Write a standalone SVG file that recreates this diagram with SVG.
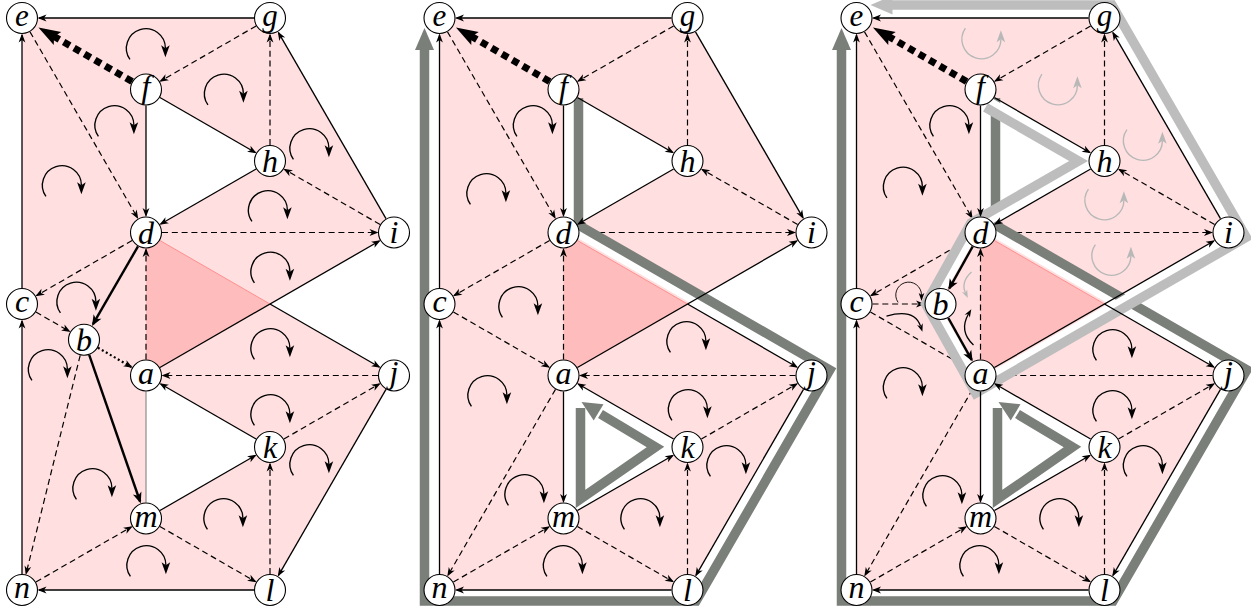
<svg xmlns="http://www.w3.org/2000/svg" xmlns:xlink="http://www.w3.org/1999/xlink" width="1251" height="611" viewBox="0 0 1251 611">
<defs>
<style>
.pink{fill:#ffdfdf;fill-rule:evenodd}
.tri{fill:#ffbcbc}
.red{stroke:#ff8f8f;stroke-width:1}
.s{stroke:#000;stroke-width:1.3;fill:none}
.d{stroke:#000;stroke-width:1.2;stroke-dasharray:6 3.8;fill:none}
.t{stroke:#000;stroke-width:2.4;fill:none;marker-end:url(#ahT)}
.dot{stroke:#000;stroke-width:2.2;stroke-dasharray:2 2.6;fill:none}
.bd{stroke:#000;stroke-width:7;stroke-dasharray:7 5;fill:none;marker-end:url(#ahB)}
.gr{stroke:#8c8c8c;stroke-width:1.2}
.a{marker-end:url(#ah)}
.case{fill:none;stroke:#fff;stroke-width:8;stroke-linejoin:miter}
.bandD{fill:none;stroke:#7a7f7a;stroke-width:9.5;stroke-linejoin:miter}
.bandL{fill:none;stroke:#bdbdbd;stroke-width:9.5;stroke-linejoin:miter}
.headD{fill:#7a7f7a}
.headL{fill:#bdbdbd}
.node circle{fill:#fff;stroke:#000;stroke-width:1.1}
.node text{font-family:"Liberation Serif","Times New Roman",serif;font-style:italic;font-size:32px;text-anchor:middle;fill:#000}
.node text.top{font-size:31px}
.rot{color:#000}
.rotg{color:#b8b8b8}
.sm{fill:none;stroke-width:1.3}
</style>
<marker id="ah" markerUnits="userSpaceOnUse" markerWidth="20" markerHeight="20" refX="0" refY="0" orient="auto" overflow="visible"><path d="M1.5,0 L-7.5,-3.4 L-5,0 L-7.5,3.4 Z" fill="#000"/></marker>
<marker id="ahT" markerUnits="userSpaceOnUse" markerWidth="20" markerHeight="20" refX="0" refY="0" orient="auto" overflow="visible"><path d="M2,0 L-9,-4.5 L-6,0 L-9,4.5 Z" fill="#000"/></marker>
<marker id="ahB" markerUnits="userSpaceOnUse" markerWidth="40" markerHeight="40" refX="0" refY="0" orient="auto" overflow="visible"><path d="M16,0 L-6,-7.5 L-2,0 L-6,7.5 Z" fill="#000"/></marker>
<g id="rot"><path d="M-17.27,11.18 A19.5,19.5 0 1 1 18.2,0" fill="none" stroke="currentColor" stroke-width="1.35"/><path d="M18.2,9 L22.5,-3 L18.2,0 L13.9,-3 Z" fill="currentColor"/></g>
</defs>
<rect width="1251" height="611" fill="#fff"/>

<!-- ================= PANEL 1 ================= -->
<g id="panel1">
<path class="pink" d="M22,18 L270,18 L394,232.5 L270,304 L394,375.5 L270,590 L22,590 Z M146,89.5 L270,161 L146,232.5 Z M146,375.5 L270,447 L146,518.5 Z"/>
<path class="tri" d="M146,232.5 L270,304 L146,375.5 Z"/>
<g id="p1-connectors">
<line class="red" x1="159.9" y1="240.5" x2="270" y2="304"/>
<line class="d a" x1="256.1" y1="26" x2="160.7" y2="81"/>
<line class="d a" x1="30" y1="31.85" x2="137.5" y2="217.8"/>
<line class="d a" x1="270" y1="145" x2="270" y2="35"/>
<line class="d a" x1="380.1" y1="224.5" x2="284.7" y2="169.5"/>
<line class="d a" x1="162" y1="232.5" x2="377" y2="232.5"/>
<line class="d a" x1="132.1" y1="240.5" x2="36.7" y2="295.5"/>
<line class="d a" x1="146" y1="359.5" x2="146" y2="249.5"/>
<line class="d a" x1="378" y1="375.5" x2="163" y2="375.5"/>
<line class="d a" x1="283.9" y1="439" x2="379.3" y2="384"/>
<line class="d a" x1="270" y1="574" x2="270" y2="464"/>
<line class="d a" x1="159.9" y1="526.5" x2="255.3" y2="581.5"/>
<line class="d a" x1="35.9" y1="582" x2="131.3" y2="527"/>
<line class="d a" x1="35.9" y1="312" x2="69.3" y2="331.3"/>
<line class="d a" x1="80.2" y1="355.3" x2="26.1" y2="573.5"/>
<line class="gr" x1="146" y1="391.5" x2="146" y2="502.5"/>
<line class="s a" x1="254" y1="18" x2="39" y2="18"/>
<line class="bd" x1="132.1" y1="81.5" x2="52.3" y2="35.5"/>
<line class="s a" x1="146" y1="105.5" x2="146" y2="215.5"/>
<line class="s a" x1="159.9" y1="97.5" x2="255.3" y2="152.5"/>
<line class="s a" x1="256.1" y1="169" x2="160.7" y2="224"/>
<line class="s a" x1="386" y1="218.65" x2="278.5" y2="32.7"/>
<line class="s a" x1="159.9" y1="367.5" x2="379.3" y2="241"/>
<line class="s a" x1="22" y1="288" x2="22" y2="35"/>
<line class="s a" x1="22" y1="574" x2="22" y2="321"/>
<line class="s a" x1="270" y1="304" x2="379.3" y2="367"/>
<line class="s a" x1="256.1" y1="439" x2="160.7" y2="384"/>
<line class="s a" x1="159.9" y1="510.5" x2="255.3" y2="455.5"/>
<line class="s a" x1="386" y1="389.35" x2="278.5" y2="575.3"/>
<line class="s a" x1="254" y1="590" x2="39" y2="590"/>
<line class="t" x1="138" y1="246.35" x2="93" y2="324.2"/>
<line class="t" x1="89.2" y1="354.9" x2="140.1" y2="501.5"/>
<line class="dot a" x1="97.9" y1="347.7" x2="131.3" y2="367"/>
</g>
<g id="p1-rotations" class="rot">
<use xlink:href="#rot" transform="translate(147.2,48.2)"/>
<use xlink:href="#rot" transform="translate(225.2,93.7)"/>
<use xlink:href="#rot" transform="translate(115.7,125.2)"/>
<use xlink:href="#rot" transform="translate(63.2,185.2)"/>
<use xlink:href="#rot" transform="translate(310.7,148.2)"/>
<use xlink:href="#rot" transform="translate(269.2,210.2)"/>
<use xlink:href="#rot" transform="translate(271.7,271.7)"/>
<use xlink:href="#rot" transform="translate(77.7,301.7)"/>
<use xlink:href="#rot" transform="translate(49.2,369.2)"/>
<use xlink:href="#rot" transform="translate(271.7,348.2)"/>
<use xlink:href="#rot" transform="translate(271.7,414.2)"/>
<use xlink:href="#rot" transform="translate(310.7,464.2)"/>
<use xlink:href="#rot" transform="translate(93.7,488.2)"/>
<use xlink:href="#rot" transform="translate(224.7,518.2)"/>
<use xlink:href="#rot" transform="translate(147.7,565.2)"/>
</g>
<g id="p1-nodes">
<g id="p1-e" class="node"><circle cx="22" cy="18" r="15.5"/><text class="top" x="22" y="26">e</text></g>
<g id="p1-g" class="node"><circle cx="270" cy="18" r="15.5"/><text class="top" x="270" y="26">g</text></g>
<g id="p1-f" class="node"><circle cx="146" cy="89.5" r="15.5"/><text x="146" y="97.3">f</text></g>
<g id="p1-h" class="node"><circle cx="270" cy="161" r="15.5"/><text x="270" y="172.3">h</text></g>
<g id="p1-d" class="node"><circle cx="146" cy="232.5" r="15.5"/><text x="146" y="243.8">d</text></g>
<g id="p1-i" class="node"><circle cx="394" cy="232.5" r="15.5"/><text x="394" y="243">i</text></g>
<g id="p1-c" class="node"><circle cx="22" cy="304" r="15.5"/><text x="22" y="312.2">c</text></g>
<g id="p1-b" class="node"><circle cx="84" cy="339.75" r="15.5"/><text x="84" y="351">b</text></g>
<g id="p1-a" class="node"><circle cx="146" cy="375.5" r="15.5"/><text x="146" y="383.7">a</text></g>
<g id="p1-j" class="node"><circle cx="394" cy="375.5" r="15.5"/><text x="394" y="382.7">j</text></g>
<g id="p1-k" class="node"><circle cx="270" cy="447" r="15.5"/><text x="270" y="458.3">k</text></g>
<g id="p1-m" class="node"><circle cx="146" cy="518.5" r="15.5"/><text x="146" y="526.7">m</text></g>
<g id="p1-n" class="node"><circle cx="22" cy="590" r="15.5"/><text x="22" y="598.2">n</text></g>
<g id="p1-l" class="node"><circle cx="270" cy="590" r="15.5"/><text x="270" y="601.3">l</text></g>
</g>
</g>

<!-- ================= PANEL 2 ================= -->
<g id="panel2" transform="translate(417.5,0)">
<path class="pink" d="M22,18 L270,18 L394,232.5 L270,304 L394,375.5 L270,590 L22,590 Z M146,89.5 L270,161 L146,232.5 Z M146,375.5 L270,447 L146,518.5 Z"/>
<path class="tri" d="M146,232.5 L270,304 L146,375.5 Z"/>
<g id="p2-connectors-dashed">
<line class="red" x1="159.9" y1="240.5" x2="270" y2="304"/>
<line class="d a" x1="256.1" y1="26" x2="160.7" y2="81"/>
<line class="d a" x1="30" y1="31.85" x2="137.5" y2="217.8"/>
<line class="d a" x1="270" y1="145" x2="270" y2="35"/>
<line class="d a" x1="380.1" y1="224.5" x2="284.7" y2="169.5"/>
<line class="d a" x1="162" y1="232.5" x2="377" y2="232.5"/>
<line class="d a" x1="132.1" y1="240.5" x2="36.7" y2="295.5"/>
<line class="d a" x1="146" y1="359.5" x2="146" y2="249.5"/>
<line class="d a" x1="378" y1="375.5" x2="163" y2="375.5"/>
<line class="d a" x1="283.9" y1="439" x2="379.3" y2="384"/>
<line class="d a" x1="270" y1="574" x2="270" y2="464"/>
<line class="d a" x1="159.9" y1="526.5" x2="255.3" y2="581.5"/>
<line class="d a" x1="35.9" y1="582" x2="131.3" y2="527"/>
<line class="d a" x1="35.9" y1="312" x2="131.3" y2="367"/>
<line class="d a" x1="138" y1="389.35" x2="30.5" y2="575.3"/>
</g>
<g id="p2-rotations" class="rot">
<use xlink:href="#rot" transform="translate(116.7,125.2)"/>
<use xlink:href="#rot" transform="translate(70.2,193.2)"/>
<use xlink:href="#rot" transform="translate(102.2,306.2)"/>
<use xlink:href="#rot" transform="translate(71.2,395.2)"/>
<use xlink:href="#rot" transform="translate(270.2,341.2)"/>
<use xlink:href="#rot" transform="translate(271.7,409.2)"/>
<use xlink:href="#rot" transform="translate(310.2,465.2)"/>
<use xlink:href="#rot" transform="translate(108.2,494.2)"/>
<use xlink:href="#rot" transform="translate(224.2,518.2)"/>
<use xlink:href="#rot" transform="translate(146.7,565.2)"/>
</g>
<g id="p2-paths">
<polyline class="case" points="152.75,98 152.75,229.1 402.2,373 273.9,594.95 15.25,594.95 15.25,50"/>
<polyline class="bandD" points="161,98 161,225 412.3,369.9 278.6,601 7,601 7,49"/>
<polygon class="headD" points="7,28 16.5,50 -2.5,50"/>
<polyline class="bandD" points="163,408 163,499 238,447 183,414"/>
<polygon class="headD" points="164,402 186,404.3 176.2,420.5"/>
</g>
<g id="p2-connectors-solid">
<line class="s a" x1="254" y1="18" x2="39" y2="18"/>
<line class="bd" x1="132.1" y1="81.5" x2="52.3" y2="35.5"/>
<line class="s a" x1="146" y1="105.5" x2="146" y2="215.5"/>
<line class="s a" x1="159.9" y1="97.5" x2="255.3" y2="152.5"/>
<line class="s a" x1="256.1" y1="169" x2="160.7" y2="224"/>
<line class="s a" x1="278" y1="31.85" x2="385.5" y2="217.8"/>
<line class="s a" x1="159.9" y1="367.5" x2="379.3" y2="241"/>
<line class="s a" x1="22" y1="288" x2="22" y2="35"/>
<line class="s a" x1="22" y1="574" x2="22" y2="321"/>
<line class="s a" x1="270" y1="304" x2="379.3" y2="367"/>
<line class="s a" x1="256.1" y1="439" x2="160.7" y2="384"/>
<line class="s a" x1="159.9" y1="510.5" x2="255.3" y2="455.5"/>
<line class="s a" x1="386" y1="389.35" x2="278.5" y2="575.3"/>
<line class="s a" x1="254" y1="590" x2="39" y2="590"/>
<line class="s a" x1="146" y1="391.5" x2="146" y2="501.5"/>
</g>
<g id="p2-nodes">
<g id="p2-e" class="node"><circle cx="22" cy="18" r="15.5"/><text class="top" x="22" y="26">e</text></g>
<g id="p2-g" class="node"><circle cx="270" cy="18" r="15.5"/><text class="top" x="270" y="26">g</text></g>
<g id="p2-f" class="node"><circle cx="146" cy="89.5" r="15.5"/><text x="146" y="97.3">f</text></g>
<g id="p2-h" class="node"><circle cx="270" cy="161" r="15.5"/><text x="270" y="172.3">h</text></g>
<g id="p2-d" class="node"><circle cx="146" cy="232.5" r="15.5"/><text x="146" y="243.8">d</text></g>
<g id="p2-i" class="node"><circle cx="394" cy="232.5" r="15.5"/><text x="394" y="243">i</text></g>
<g id="p2-c" class="node"><circle cx="22" cy="304" r="15.5"/><text x="22" y="312.2">c</text></g>
<g id="p2-a" class="node"><circle cx="146" cy="375.5" r="15.5"/><text x="146" y="383.7">a</text></g>
<g id="p2-j" class="node"><circle cx="394" cy="375.5" r="15.5"/><text x="394" y="382.7">j</text></g>
<g id="p2-k" class="node"><circle cx="270" cy="447" r="15.5"/><text x="270" y="458.3">k</text></g>
<g id="p2-m" class="node"><circle cx="146" cy="518.5" r="15.5"/><text x="146" y="526.7">m</text></g>
<g id="p2-n" class="node"><circle cx="22" cy="590" r="15.5"/><text x="22" y="598.2">n</text></g>
<g id="p2-l" class="node"><circle cx="270" cy="590" r="15.5"/><text x="270" y="601.3">l</text></g>
</g>
</g>

<!-- ================= PANEL 3 ================= -->
<g id="panel3" transform="translate(834.5,0)">
<path class="pink" d="M22,18 L270,18 L394,232.5 L270,304 L394,375.5 L270,590 L22,590 Z M146,89.5 L270,161 L146,232.5 Z M146,375.5 L270,447 L146,518.5 Z"/>
<path class="tri" d="M146,232.5 L270,304 L146,375.5 Z"/>
<g id="p3-connectors-dashed">
<line class="red" x1="159.9" y1="240.5" x2="270" y2="304"/>
<line class="d a" x1="256.1" y1="26" x2="160.7" y2="81"/>
<line class="d a" x1="30" y1="31.85" x2="137.5" y2="217.8"/>
<line class="d a" x1="270" y1="145" x2="270" y2="35"/>
<line class="d a" x1="380.1" y1="224.5" x2="284.7" y2="169.5"/>
<line class="d a" x1="162" y1="232.5" x2="377" y2="232.5"/>
<line class="d a" x1="132.1" y1="240.5" x2="36.7" y2="295.5"/>
<line class="d a" x1="146" y1="359.5" x2="146" y2="249.5"/>
<line class="d a" x1="378" y1="375.5" x2="163" y2="375.5"/>
<line class="d a" x1="283.9" y1="439" x2="379.3" y2="384"/>
<line class="d a" x1="270" y1="574" x2="270" y2="464"/>
<line class="d a" x1="159.9" y1="526.5" x2="255.3" y2="581.5"/>
<line class="d a" x1="35.9" y1="582" x2="131.3" y2="527"/>
<line class="d a" x1="35.9" y1="312" x2="131.3" y2="367"/>
<line class="d a" x1="38" y1="304" x2="89" y2="304"/>
<line class="d a" x1="138" y1="389.35" x2="30.5" y2="575.3"/>
</g>
<g id="p3-rotations">
<g class="rot">
<use xlink:href="#rot" transform="translate(116.2,125.2)"/>
<use xlink:href="#rot" transform="translate(69.7,186.7)"/>
<use xlink:href="#rot" transform="translate(69.7,387.2)"/>
<use xlink:href="#rot" transform="translate(279.2,349.2)"/>
<use xlink:href="#rot" transform="translate(279.2,410.2)"/>
<use xlink:href="#rot" transform="translate(309.7,465.2)"/>
<use xlink:href="#rot" transform="translate(109.2,495.2)"/>
<use xlink:href="#rot" transform="translate(226.2,518.2)"/>
<use xlink:href="#rot" transform="translate(146.2,565.2)"/>
<use xlink:href="#rot" transform="translate(75,295) scale(0.66)"/>
<path class="sm" stroke="#000" d="M52,316 Q80,308 86,326"/>
<path fill="#000" d="M87.9,331.7 L88.25,323.15 L86.16,326.5 L82.55,325.05 Z"/>
<path class="sm" stroke="#000" d="M139,345 Q124,331 134,314"/>
<path fill="#000" d="M136.8,309.3 L135.3,317.7 L134,314 L130.1,314.7 Z"/>
</g>
<g class="rotg">
<use xlink:href="#rot" transform="translate(148.2,39.3) scale(1,-1)"/>
<use xlink:href="#rot" transform="translate(224.7,85.3) scale(1,-1)"/>
<use xlink:href="#rot" transform="translate(309.7,140.8) scale(1,-1)"/>
<use xlink:href="#rot" transform="translate(271.2,200.3) scale(1,-1)"/>
<use xlink:href="#rot" transform="translate(278.2,255.8) scale(1,-1)"/>
<path class="sm" stroke="#b8b8b8" d="M137,272 Q126,282 131,293"/>
<path fill="#b8b8b8" d="M133.3,298 L132.7,289.5 L131,293 L127.3,292 Z"/>
</g>
</g>
<g id="p3-paths">
<polyline class="case" points="152.75,98 152.75,229.1 402.2,373 273.9,594.95 15.25,594.95 15.25,50"/>
<polyline class="bandD" points="161,98 161,225 412.3,369.9 278.6,601 7,601 7,49"/>
<polygon class="headD" points="7,28 16.5,50 -2.5,50"/>
<polyline class="bandD" points="163,408 163,499 238,447 183,414"/>
<polygon class="headD" points="164,402 186,404.3 176.2,420.5"/>
<polyline class="case" points="152,99.7 258.3,161 141.7,228.2 99.3,304 143.8,383.5 402,234.7 273.4,12.15 57,12.15"/>
<polyline class="bandL" points="151,107.4 244,161 136.4,223 91.1,304 141.1,393.3 411.8,237.3 277.5,5 57,5"/>
<polygon class="headL" points="36,5 58,-4.5 58,14.5"/>
</g>
<g id="p3-connectors-solid">
<line class="s a" x1="254" y1="18" x2="39" y2="18"/>
<line class="bd" x1="132.1" y1="81.5" x2="52.3" y2="35.5"/>
<line class="s a" x1="146" y1="105.5" x2="146" y2="215.5"/>
<line class="s a" x1="159.9" y1="97.5" x2="255.3" y2="152.5"/>
<line class="s a" x1="256.1" y1="169" x2="160.7" y2="224"/>
<line class="s a" x1="386" y1="218.65" x2="278.5" y2="32.7"/>
<line class="s a" x1="159.9" y1="367.5" x2="379.3" y2="241"/>
<line class="s a" x1="22" y1="288" x2="22" y2="35"/>
<line class="s a" x1="22" y1="574" x2="22" y2="321"/>
<line class="s a" x1="270" y1="304" x2="379.3" y2="367"/>
<line class="s a" x1="256.1" y1="439" x2="160.7" y2="384"/>
<line class="s a" x1="159.9" y1="510.5" x2="255.3" y2="455.5"/>
<line class="s a" x1="386" y1="389.35" x2="278.5" y2="575.3"/>
<line class="s a" x1="254" y1="590" x2="39" y2="590"/>
<line class="s a" x1="146" y1="391.5" x2="146" y2="501.5"/>
<line class="t" x1="138.2" y1="246.5" x2="114.8" y2="288.3"/>
<line class="t" x1="113.8" y1="318" x2="137.2" y2="359.8"/>
</g>
<g id="p3-nodes">
<g id="p3-e" class="node"><circle cx="22" cy="18" r="15.5"/><text class="top" x="22" y="26">e</text></g>
<g id="p3-g" class="node"><circle cx="270" cy="18" r="15.5"/><text class="top" x="270" y="26">g</text></g>
<g id="p3-f" class="node"><circle cx="146" cy="89.5" r="15.5"/><text x="146" y="97.3">f</text></g>
<g id="p3-h" class="node"><circle cx="270" cy="161" r="15.5"/><text x="270" y="172.3">h</text></g>
<g id="p3-d" class="node"><circle cx="146" cy="232.5" r="15.5"/><text x="146" y="243.8">d</text></g>
<g id="p3-i" class="node"><circle cx="394" cy="232.5" r="15.5"/><text x="394" y="243">i</text></g>
<g id="p3-c" class="node"><circle cx="22" cy="304" r="15.5"/><text x="22" y="312.2">c</text></g>
<g id="p3-b" class="node"><circle cx="106" cy="304" r="15.5"/><text x="106" y="315.3">b</text></g>
<g id="p3-a" class="node"><circle cx="146" cy="375.5" r="15.5"/><text x="146" y="383.7">a</text></g>
<g id="p3-j" class="node"><circle cx="394" cy="375.5" r="15.5"/><text x="394" y="382.7">j</text></g>
<g id="p3-k" class="node"><circle cx="270" cy="447" r="15.5"/><text x="270" y="458.3">k</text></g>
<g id="p3-m" class="node"><circle cx="146" cy="518.5" r="15.5"/><text x="146" y="526.7">m</text></g>
<g id="p3-n" class="node"><circle cx="22" cy="590" r="15.5"/><text x="22" y="598.2">n</text></g>
<g id="p3-l" class="node"><circle cx="270" cy="590" r="15.5"/><text x="270" y="601.3">l</text></g>
</g>
</g>
</svg>
